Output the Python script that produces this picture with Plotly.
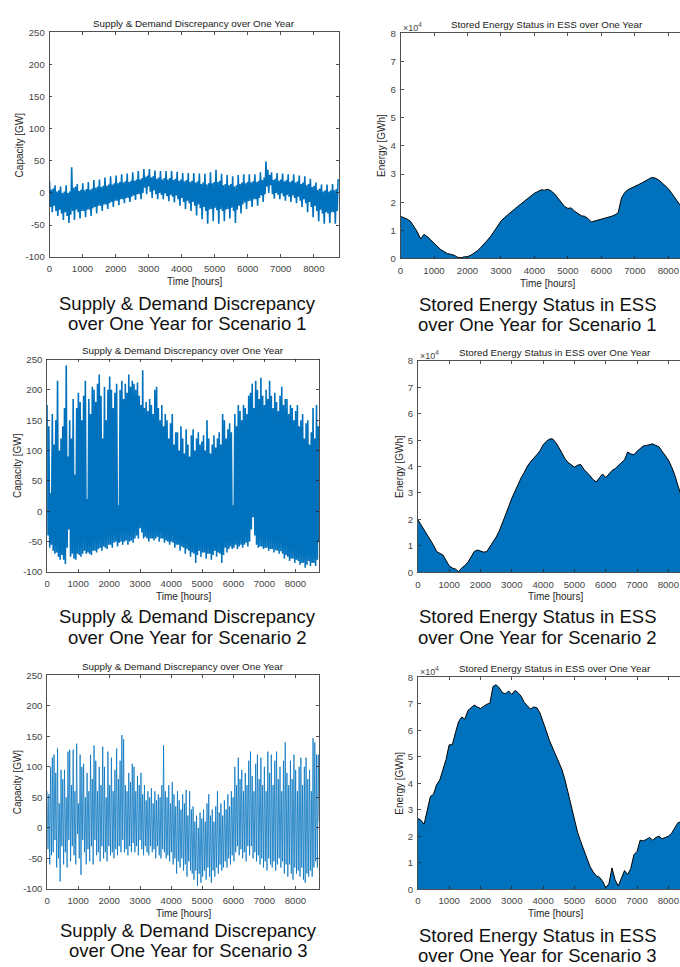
import plotly.graph_objects as go

# ---------------- data ----------------
hour_ticks = [0, 1000, 2000, 3000, 4000, 5000, 6000, 7000, 8000]
cap_ticks = [-100, -50, 0, 50, 100, 150, 200, 250]
energy_ticks = [0, 1, 2, 3, 4, 5, 6, 7, 8]          # x 10^4 GWh

# discrepancy series: max / min inside consecutive 56-hour windows (GW)
s1_hi = [18, 5, 7, 12, 2, 4, 10, 0, 2, 12, 0, 2, 40, 8, 10, 14, 3, 5, 15, 4, 6,
         17, 5, 7, 20, 8, 10, 21, 9, 11, 24, 11, 13, 26, 13, 15, 27, 15, 17, 29, 16, 18,
         30, 17, 19, 32, 19, 21, 34, 21, 23, 37, 25, 27, 37, 24, 26, 35, 22, 24, 34, 21, 23,
         34, 21, 23, 34, 20, 22, 33, 19, 21, 31, 18, 20, 31, 17, 19, 31, 16, 18, 30, 14, 16,
         30, 13, 15, 32, 15, 17, 36, 17, 19, 30, 12, 14, 28, 12, 14, 26, 10, 12, 28, 14, 16,
         29, 15, 17, 29, 16, 18, 29, 17, 19, 32, 20, 24, 49, 36, 28, 32, 20, 22, 31, 19, 21,
         30, 18, 20, 29, 17, 19, 29, 16, 18, 27, 14, 16, 26, 12, 14, 22, 9, 11, 16, 5, 7,
         13, 2, 4, 13, 2, 4, 14, 4, 6, 21]
s1_lo = [-22, -30, -20, -28, -36, -26, -32, -42, -30, -36, -47, -34, -28, -42, -26,
         -30, -40, -28, -28, -38, -26, -26, -36, -24, -22, -32, -20, -20, -28, -18,
         -18, -25, -16, -14, -22, -12, -12, -19, -10, -10, -16, -8, -8, -14, -6,
         -4, -11, -2, -2, -10, 0, 8, -2, 10, 2, -8, 4, -2, -10, 0, -3, -10, -1,
         -5, -13, -3, -6, -15, -4, -10, -20, -8, -14, -25, -12, -16, -28, -14,
         -20, -35, -18, -24, -41, -22, -28, -48, -26, -25, -44, -23, -27, -48, -25,
         -28, -44, -26, -25, -40, -23, -28, -47, -26, -20, -32, -18, -15, -25, -13,
         -12, -22, -10, -10, -20, -8, -4, -14, -2, 10, 0, 12, -2, -9, 0, -3, -10, -1,
         -5, -12, -3, -6, -14, -4, -8, -16, -6, -12, -22, -10, -16, -30, -14,
         -22, -38, -20, -28, -44, -26, -32, -48, -30, -32, -47, -30, -30, -48, -28, 18]

s2_hi = [175, 140, 30, 160, 110, 150, 215, 100, 120, 140, 170, 240, 90, 150, 120,
         185, 60, 170, 195, 180, 150, 190, 215, 20, 185, 160, 205, 200, 180, 210,
         225, 190, 120, 205, 150, 200, 222, 200, 170, 195, 210, 10, 200, 215, 185,
         210, 195, 225, 205, 215, 210, 200, 212, 190, 175, 232, 170, 180, 165, 185,
         175, 160, 200, 205, 170, 150, 175, 140, 160, 150, 120, 145, 160, 110, 130,
         130, 100, 140, 120, 95, 135, 110, 90, 125, 135, 100, 120, 130, 110, 115,
         125, 100, 150, 120, 95, 110, 125, 105, 120, 130, 110, 160, 150, 120, 135,
         145, 130, 10, 160, 140, 175, 165, 150, 175, 170, 160, 190, 195, 210, 170,
         215, 200, 185, 220, 190, 175, 200, 185, 215, 190, 170, 195, 180, 165, 190,
         205, 175, 185, 185, 160, 175, 170, 150, 165, 175, 140, 150, 160, 120, 145,
         150, 110, 130, 170, 120, 175, 140]
s2_lo = [-40, -60, -55, -65, -70, -68, -75, -80, -72, -80, -87, -60, -30, -75, -70,
         -78, -80, -70, -72, -75, -70, -65, -70, -68, -70, -72, -65, -65, -68, -62,
         -60, -65, -58, -60, -62, -55, -55, -60, -52, -50, -58, -52, -50, -55, -50,
         -48, -55, -50, -48, -52, -45, -40, -45, -28, -35, -45, -42, -45, -50, -45,
         -45, -48, -45, -42, -50, -45, -45, -52, -48, -50, -55, -50, -52, -60, -55,
         -55, -65, -58, -60, -70, -62, -65, -75, -68, -70, -85, -72, -65, -75, -68,
         -68, -78, -70, -70, -80, -72, -65, -75, -68, -70, -85, -72, -60, -68, -62,
         -58, -62, -60, -55, -62, -58, -55, -60, -55, -52, -58, -50, -30, -10, -40,
         -55, -60, -58, -58, -62, -60, -60, -65, -62, -62, -68, -64, -65, -70, -66,
         -70, -78, -72, -75, -82, -78, -78, -85, -80, -82, -88, -85, -85, -93, -88,
         -82, -90, -85, -85, -90, -80, -50]

s3_hi = [60, 55, 100, 115, 120, 90, 130, 40, 95, 80, 95, 50, 125, 128, 70, 128, 60, 138,
         40, 120, 100, 105, 50, 90, 60, 120, 80, 135, 110, 60, 100, 70, 133, 100, 50, 125,
         70, 115, 60, 95, 130, 80, 110, 152, 145, 70, 60, 90, 75, 105, 100, 60, 85, 70,
         90, 55, 70, 45, 60, 50, 65, 40, 60, 45, 55, 50, 70, 135, 60, 50, 70, 40,
         75, 55, 35, 60, 45, 30, 55, 40, 62, 20, 60, 30, 35, 10, 20, 0, 25, 15,
         30, 10, 40, 55, 20, 30, 10, 35, 60, 25, 40, 20, 45, 30, 55, 35, 60, 50,
         100, 70, 115, 80, 95, 60, 90, 70, 110, 125, 85, 60, 105, 120, 80, 115, 70, 100,
         60, 125, 90, 120, 70, 110, 125, 80, 100, 60, 110, 140, 90, 70, 110, 80, 120, 95,
         60, 100, 115, 70, 100, 115, 80, 95, 60, 147, 140, 120, 120]
s3_lo = [-35, -60, -45, -40, -20, -65, -50, -88, -30, -60, -40, -65, -20, -55, -30, -45,
         -60, -10, -50, -77, -20, -40, -60, -35, -55, -30, -60, -20, -45, -40, -55, -30,
         -50, -40, -55, -30, -45, -40, -50, -35, -45, -30, -40, -20, -40, -35, -45, -30,
         -40, -25, -40, -30, -45, -20, -35, -45, -30, -40, -45, -30, -40, -35, -50, -30,
         -45, -50, -35, -40, -50, -45, -55, -40, -60, -50, -75, -55, -65, -50, -70, -60,
         -80, -55, -70, -75, -85, -70, -95, -75, -90, -80, -70, -85, -65, -80, -90, -70,
         -80, -65, -75, -60, -70, -65, -55, -65, -50, -60, -45, -55, -40, -30, -45, -35,
         -50, -40, -55, -30, -45, -30, -50, -40, -55, -45, -60, -50, -65, -55, -70, -50,
         -60, -65, -55, -70, -60, -50, -65, -55, -75, -60, -80, -60, -75, -85, -65, -75,
         -70, -80, -65, -85, -90, -75, -80, -70, -80, -65, -55, -65, 10]

# stored energy (x 10^4 GWh), sampled every 100 h plus the final hour
ess_hours = list(range(0, 8800, 100)) + [8760]
ess1 = [1.50, 1.45, 1.40, 1.32, 1.15, 0.95, 0.70, 0.86, 0.78, 0.66, 0.55, 0.42, 0.32, 0.25,
        0.18, 0.15, 0.12, 0.05, 0.03, 0.06, 0.07, 0.12, 0.19, 0.28, 0.40, 0.52, 0.66, 0.80,
        0.98, 1.18, 1.33, 1.45, 1.56, 1.65, 1.75, 1.85, 1.95, 2.05, 2.15, 2.25, 2.32, 2.38,
        2.44, 2.43, 2.46, 2.40, 2.30, 2.15, 2.00, 1.85, 1.78, 1.80, 1.68, 1.60, 1.52, 1.50,
        1.42, 1.30, 1.33, 1.38, 1.40, 1.42, 1.45, 1.50, 1.55, 1.62, 2.15, 2.35, 2.45, 2.50,
        2.57, 2.62, 2.68, 2.75, 2.80, 2.88, 2.86, 2.80, 2.70, 2.60, 2.48, 2.32, 2.15, 1.95,
        1.78, 1.65, 1.55, 1.50, 1.48]
ess2 = [1.99, 1.80, 1.60, 1.44, 1.21, 1.02, 0.78, 0.70, 0.65, 0.45, 0.24, 0.16, 0.12, 0.02,
        0.16, 0.25, 0.38, 0.58, 0.78, 0.84, 0.79, 0.76, 0.78, 0.95, 1.12, 1.33, 1.56, 1.85,
        2.15, 2.48, 2.80, 3.05, 3.35, 3.58, 3.78, 4.02, 4.18, 4.30, 4.45, 4.60, 4.82, 4.95,
        5.04, 5.05, 4.92, 4.73, 4.52, 4.30, 4.15, 4.05, 3.98, 4.05, 4.08, 3.90, 3.78, 3.65,
        3.50, 3.42, 3.58, 3.72, 3.58, 3.70, 3.85, 3.92, 4.05, 4.15, 4.25, 4.55, 4.48, 4.45,
        4.58, 4.70, 4.78, 4.80, 4.82, 4.86, 4.80, 4.75, 4.58, 4.40, 4.25, 4.00, 3.70, 3.30,
        2.90, 2.60, 2.35, 2.10, 2.00]
ess3 = [2.67, 2.60, 2.45, 2.95, 3.50, 3.58, 3.95, 4.12, 4.55, 4.90, 5.45, 5.45, 5.90, 6.32,
        6.50, 6.42, 6.75, 6.85, 6.95, 6.88, 6.82, 6.90, 6.98, 7.02, 7.65, 7.72, 7.60, 7.42,
        7.38, 7.48, 7.35, 7.50, 7.42, 7.28, 7.05, 6.92, 6.80, 6.88, 6.85, 6.65, 6.35, 5.98,
        5.62, 5.35, 5.05, 4.85, 4.52, 4.12, 3.65, 3.15, 2.60, 2.15, 1.80, 1.48, 1.15, 0.85,
        0.65, 0.50, 0.45, 0.30, 0.05, 0.20, 0.80, 0.35, 0.12, 0.45, 0.70, 0.55, 0.78, 1.30,
        1.42, 1.85, 1.82, 1.88, 1.95, 1.85, 1.95, 2.00, 1.90, 1.95, 2.00, 2.10, 2.30, 2.50,
        2.55, 2.60, 2.65, 2.68, 2.67]

small_title_l = "Supply & Demand Discrepancy over One Year"
small_title_r = "Stored Energy Status in ESS over One Year"
captions_l = ["Supply & Demand Discrepancy", "over One Year for Scenario {}"]
captions_r = ["Stored Energy Status in ESS", "over One Year for Scenario {}"]

# ---------------- layout helpers ----------------
W, H = 680, 967
BLUE = "#0072BD"
AX = "#262626"
TICKC = "#444444"
FONT = "Liberation Sans, Arial, sans-serif"


def px(x):
    return x / W


def py(y):
    return 1 - y / H


def zigzag(hi, lo, win=56):
    xs, ys = [], []
    for k, (h, l) in enumerate(zip(hi, lo)):
        xs += [k * win, k * win + win // 2]
        ys += [h, l]
    return xs, ys


fig = go.Figure()

# panel geometry in pixels: (left, right, top, bottom, xmax)
panels = [
    (46.7, 337.4, 26.7, 254.0, 8760),
    (399.3, 680.0, 27.5, 255.5, 8348),
    (44.3, 317.4, 357.5, 572.5, 8760),
    (416.7, 680.0, 359.0, 572.7, 8372),
    (44.3, 317.4, 677.0, 893.0, 8760),
    (416.7, 680.0, 679.0, 893.3, 8372),
]

disc = [(s1_hi, s1_lo), (s2_hi, s2_lo), (s3_hi, s3_lo)]
disc_width = [1.6, 1.6, 0.75]
ess = [ess1, ess2, ess3]

annotations = []
for i, (l, r, t, b, xmax) in enumerate(panels):
    n = i + 1
    xa = "xaxis" if n == 1 else f"xaxis{n}"
    ya = "yaxis" if n == 1 else f"yaxis{n}"
    xref = "x" if n == 1 else f"x{n}"
    yref = "y" if n == 1 else f"y{n}"
    left_col = (i % 2 == 0)
    row = i // 2

    if left_col:
        hi, lo = disc[row]
        xs, ys = zigzag(hi, lo)
        fig.add_trace(go.Scatter(x=xs, y=ys, mode="lines",
                                 line=dict(color=BLUE, width=disc_width[row]),
                                 xaxis=xref, yaxis=yref, hoverinfo="skip"))
        yticks = cap_ticks
        yrange = [-100, 250]
    else:
        fig.add_trace(go.Scatter(x=ess_hours, y=ess[row], mode="lines",
                                 fill="tozeroy", fillcolor=BLUE,
                                 line=dict(color="black", width=1),
                                 xaxis=xref, yaxis=yref, hoverinfo="skip"))
        yticks = energy_ticks
        yrange = [0, 8]

    fig.update_layout({
        xa: dict(domain=[px(l), px(r)], range=[0, xmax], anchor=yref,
                 tickvals=hour_ticks, ticktext=[str(v) for v in hour_ticks],
                 ticks="inside", ticklen=3, tickwidth=0.8, tickcolor=AX,
                 showline=True, linecolor=AX, linewidth=0.8, mirror="ticks",
                 showgrid=False, zeroline=False, ticklabelstandoff=3,
                 tickfont=dict(size=9.6, color=TICKC, family=FONT)),
        ya: dict(domain=[py(b), py(t)], range=yrange, anchor=xref,
                 tickvals=yticks, ticktext=[str(v) for v in yticks],
                 ticks="inside", ticklen=3, tickwidth=0.8, tickcolor=AX,
                 showline=True, linecolor=AX, linewidth=0.8,
                 mirror="ticks" if left_col else False,
                 showgrid=False, zeroline=False, ticklabelstandoff=2,
                 tickfont=dict(size=9.6, color=TICKC, family=FONT)),
    })

    cx = (l + r) / 2 if left_col else l + (8760 / xmax) * (r - l) / 2
    # small title
    annotations.append(dict(text=small_title_l if left_col else small_title_r,
                            x=px(cx), y=py(t - 9), xref="paper", yref="paper",
                            showarrow=False, xanchor="center", yanchor="middle",
                            font=dict(size=9.8, color="#1a1a1a", family=FONT)))
    # x axis title
    annotations.append(dict(text="Time [hours]", x=px(cx), y=py(b + 25),
                            xref="paper", yref="paper", showarrow=False,
                            xanchor="center", yanchor="middle",
                            font=dict(size=10, color=AX, family=FONT)))
    # y axis title
    annotations.append(dict(text="Capacity [GW]" if left_col else "Energy [GWh]",
                            x=px(l - 30 if left_col else l - 18.5),
                            y=py((t + b) / 2), xref="paper", yref="paper",
                            showarrow=False, textangle=-90,
                            xanchor="center", yanchor="middle",
                            font=dict(size=10, color=AX, family=FONT)))
    if not left_col:
        annotations.append(dict(text="\u00d710<sup>4</sup>", x=px(l), y=py(t - 6),
                                xref="paper", yref="paper", showarrow=False,
                                xanchor="left", yanchor="middle",
                                font=dict(size=9, color=TICKC, family=FONT)))

# captions
cap_pos = [(185.5, 300.5), (537, 302), (185.7, 618), (537, 618), (186, 935), (537, 940)]
for i, (cx, cy) in enumerate(cap_pos):
    lines = captions_l if i % 2 == 0 else captions_r
    sc = i // 2 + 1
    for j, txt in enumerate(lines):
        annotations.append(dict(text=txt.format(sc), x=px(cx), y=py(cy + 20.5 * j),
                                xref="paper", yref="paper", showarrow=False,
                                xanchor="center", yanchor="middle",
                                font=dict(size=18.5, color="#111111", family=FONT)))

fig.update_layout(width=W, height=H, margin=dict(l=0, r=0, t=0, b=0),
                  paper_bgcolor="white", plot_bgcolor="white",
                  showlegend=False, annotations=annotations,
                  font=dict(family=FONT), hovermode=False)

fig.write_html("out.html",
               config={"displayModeBar": False, "staticPlot": True},
               post_script="document.body.style.margin='0';"
                           "document.body.style.overflow='hidden';")
